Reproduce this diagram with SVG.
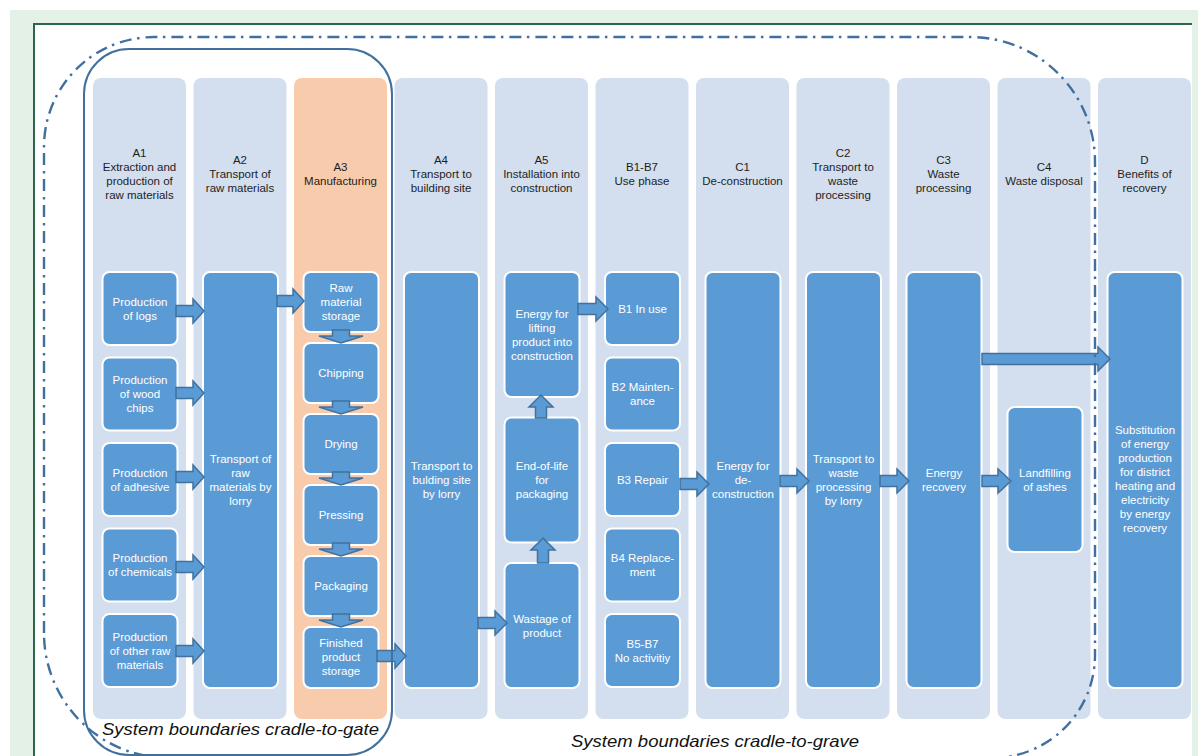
<svg xmlns="http://www.w3.org/2000/svg" width="1198" height="756" viewBox="0 0 1198 756">
<style>
.col{fill:#d3deef}
.a3{fill:#f8cbad}
.box{fill:#5b9bd5;stroke:#ffffff;stroke-width:2}
.arr{fill:#5b9bd5;stroke:#41719c;stroke-width:1.5;stroke-linejoin:miter}
.hd{font-family:"Liberation Sans",Arial,sans-serif;font-size:11.5px;fill:#1e1e1e;text-anchor:middle}
.bt{font-family:"Liberation Sans",Arial,sans-serif;font-size:11.5px;fill:#ffffff;text-anchor:middle}
.sb{font-family:"Liberation Sans",Arial,sans-serif;font-size:17px;font-style:italic;fill:#111111}
</style>
<rect x="0" y="0" width="1198" height="756" fill="#ffffff"/>
<rect x="10" y="10" width="1188" height="746" fill="#e4f1e6"/>
<rect x="34" y="24" width="1158" height="732" fill="#ffffff"/>
<path d="M34 756 L34 24 L1192 24" fill="none" stroke="#2b654d" stroke-width="2"/>

<g id="col-A1"><rect class="col" x="93" y="78" width="93" height="641" rx="8"/>
<text class="hd"><tspan x="139.5" y="157">A1</tspan><tspan x="139.5" y="171">Extraction and</tspan><tspan x="139.5" y="185">production of</tspan><tspan x="139.5" y="199">raw materials</tspan></text></g>
<g id="col-A2"><rect class="col" x="193.5" y="78" width="93" height="641" rx="8"/>
<text class="hd"><tspan x="240" y="164">A2</tspan><tspan x="240" y="178">Transport of</tspan><tspan x="240" y="192">raw materials</tspan></text></g>
<g id="col-A3"><rect class="a3" x="294" y="78" width="93" height="641" rx="8"/>
<text class="hd"><tspan x="340.5" y="171">A3</tspan><tspan x="340.5" y="185">Manufacturing</tspan></text></g>
<g id="col-A4"><rect class="col" x="394.5" y="78" width="93" height="641" rx="8"/>
<text class="hd"><tspan x="441" y="164">A4</tspan><tspan x="441" y="178">Transport to</tspan><tspan x="441" y="192">building site</tspan></text></g>
<g id="col-A5"><rect class="col" x="495" y="78" width="93" height="641" rx="8"/>
<text class="hd"><tspan x="541.5" y="164">A5</tspan><tspan x="541.5" y="178">Installation into</tspan><tspan x="541.5" y="192">construction</tspan></text></g>
<g id="col-B"><rect class="col" x="595.5" y="78" width="93" height="641" rx="8"/>
<text class="hd"><tspan x="642" y="171">B1-B7</tspan><tspan x="642" y="185">Use phase</tspan></text></g>
<g id="col-C1"><rect class="col" x="696" y="78" width="93" height="641" rx="8"/>
<text class="hd"><tspan x="742.5" y="171">C1</tspan><tspan x="742.5" y="185">De-construction</tspan></text></g>
<g id="col-C2"><rect class="col" x="796.5" y="78" width="93" height="641" rx="8"/>
<text class="hd"><tspan x="843" y="157">C2</tspan><tspan x="843" y="171">Transport to</tspan><tspan x="843" y="185">waste</tspan><tspan x="843" y="199">processing</tspan></text></g>
<g id="col-C3"><rect class="col" x="897" y="78" width="93" height="641" rx="8"/>
<text class="hd"><tspan x="943.5" y="164">C3</tspan><tspan x="943.5" y="178">Waste</tspan><tspan x="943.5" y="192">processing</tspan></text></g>
<g id="col-C4"><rect class="col" x="997.5" y="78" width="93" height="641" rx="8"/>
<text class="hd"><tspan x="1044" y="171">C4</tspan><tspan x="1044" y="185">Waste disposal</tspan></text></g>
<g id="col-D"><rect class="col" x="1098" y="78" width="93" height="641" rx="8"/>
<text class="hd"><tspan x="1144.5" y="164">D</tspan><tspan x="1144.5" y="178">Benefits of</tspan><tspan x="1144.5" y="192">recovery</tspan></text></g>

<g id="n-logs"><rect class="box" x="102.5" y="272" width="75" height="73" rx="7"/><text class="bt"><tspan x="140" y="305.5">Production</tspan><tspan x="140" y="319.5">of logs</tspan></text></g>
<g id="n-chips"><rect class="box" x="102.5" y="357.5" width="75" height="73" rx="7"/><text class="bt"><tspan x="140" y="384">Production</tspan><tspan x="140" y="398">of wood</tspan><tspan x="140" y="412">chips</tspan></text></g>
<g id="n-adhesive"><rect class="box" x="102.5" y="443" width="75" height="73" rx="7"/><text class="bt"><tspan x="140" y="476.5">Production</tspan><tspan x="140" y="490.5">of adhesive</tspan></text></g>
<g id="n-chemicals"><rect class="box" x="102.5" y="528.5" width="75" height="73" rx="7"/><text class="bt"><tspan x="140" y="562">Production</tspan><tspan x="140" y="576">of chemicals</tspan></text></g>
<g id="n-other"><rect class="box" x="102.5" y="614" width="75" height="73" rx="7"/><text class="bt"><tspan x="140" y="640.5">Production</tspan><tspan x="140" y="654.5">of other raw</tspan><tspan x="140" y="668.5">materials</tspan></text></g>

<g id="n-transport-raw"><rect class="box" x="203" y="272" width="75" height="416" rx="7"/><text class="bt"><tspan x="240.5" y="463">Transport of</tspan><tspan x="240.5" y="477">raw</tspan><tspan x="240.5" y="491">materials by</tspan><tspan x="240.5" y="505">lorry</tspan></text></g>

<g id="n-raw-storage"><rect class="box" x="303.5" y="272" width="75" height="60" rx="7"/><text class="bt"><tspan x="341" y="292">Raw</tspan><tspan x="341" y="306">material</tspan><tspan x="341" y="320">storage</tspan></text></g>
<g id="n-chipping"><rect class="box" x="303.5" y="343" width="75" height="60" rx="7"/><text class="bt"><tspan x="341" y="377">Chipping</tspan></text></g>
<g id="n-drying"><rect class="box" x="303.5" y="414" width="75" height="60" rx="7"/><text class="bt"><tspan x="341" y="448">Drying</tspan></text></g>
<g id="n-pressing"><rect class="box" x="303.5" y="485" width="75" height="60" rx="7"/><text class="bt"><tspan x="341" y="519">Pressing</tspan></text></g>
<g id="n-packaging"><rect class="box" x="303.5" y="556" width="75" height="60" rx="7"/><text class="bt"><tspan x="341" y="590">Packaging</tspan></text></g>
<g id="n-finished"><rect class="box" x="303.5" y="627" width="75" height="61" rx="7"/><text class="bt"><tspan x="341" y="647">Finished</tspan><tspan x="341" y="661">product</tspan><tspan x="341" y="675">storage</tspan></text></g>

<g id="n-transport-site"><rect class="box" x="404" y="272" width="75" height="416" rx="7"/><text class="bt"><tspan x="441.5" y="470">Transport to</tspan><tspan x="441.5" y="484">bulding site</tspan><tspan x="441.5" y="498">by lorry</tspan></text></g>

<g id="n-lifting"><rect class="box" x="504.5" y="272" width="75" height="125" rx="7"/><text class="bt"><tspan x="542" y="317.5">Energy for</tspan><tspan x="542" y="331.5">lifting</tspan><tspan x="542" y="345.5">product into</tspan><tspan x="542" y="359.5">construction</tspan></text></g>
<g id="n-eol"><rect class="box" x="504.5" y="417.5" width="75" height="125" rx="7"/><text class="bt"><tspan x="542" y="470">End-of-life</tspan><tspan x="542" y="484">for</tspan><tspan x="542" y="498">packaging</tspan></text></g>
<g id="n-wastage"><rect class="box" x="504.5" y="563" width="75" height="125" rx="7"/><text class="bt"><tspan x="542" y="622.5">Wastage of</tspan><tspan x="542" y="636.5">product</tspan></text></g>

<g id="n-b1"><rect class="box" x="605" y="272" width="75" height="73" rx="7"/><text class="bt"><tspan x="642.5" y="312.5">B1 In use</tspan></text></g>
<g id="n-b2"><rect class="box" x="605" y="357.5" width="75" height="73" rx="7"/><text class="bt"><tspan x="642.5" y="391">B2 Mainten-</tspan><tspan x="642.5" y="405">ance</tspan></text></g>
<g id="n-b3"><rect class="box" x="605" y="443" width="75" height="73" rx="7"/><text class="bt"><tspan x="642.5" y="483.5">B3 Repair</tspan></text></g>
<g id="n-b4"><rect class="box" x="605" y="528.5" width="75" height="73" rx="7"/><text class="bt"><tspan x="642.5" y="562">B4 Replace-</tspan><tspan x="642.5" y="576">ment</tspan></text></g>
<g id="n-b5"><rect class="box" x="605" y="614" width="75" height="73" rx="7"/><text class="bt"><tspan x="642.5" y="647.5">B5-B7</tspan><tspan x="642.5" y="661.5">No activitiy</tspan></text></g>

<g id="n-deconstruction"><rect class="box" x="705.5" y="272" width="75" height="416" rx="7"/><text class="bt"><tspan x="743" y="470">Energy for</tspan><tspan x="743" y="484">de-</tspan><tspan x="743" y="498">construction</tspan></text></g>
<g id="n-transport-waste"><rect class="box" x="806" y="272" width="75" height="416" rx="7"/><text class="bt"><tspan x="843.5" y="463">Transport to</tspan><tspan x="843.5" y="477">waste</tspan><tspan x="843.5" y="491">processing</tspan><tspan x="843.5" y="505">by lorry</tspan></text></g>
<g id="n-energy-recovery"><rect class="box" x="906.5" y="272" width="75" height="416" rx="7"/><text class="bt"><tspan x="944" y="477">Energy</tspan><tspan x="944" y="491">recovery</tspan></text></g>
<g id="n-landfill"><rect class="box" x="1007.5" y="407" width="75" height="145" rx="7"/><text class="bt"><tspan x="1045" y="476.5">Landfilling</tspan><tspan x="1045" y="490.5">of ashes</tspan></text></g>
<g id="n-substitution"><rect class="box" x="1107.5" y="272" width="75" height="416" rx="7"/><text class="bt"><tspan x="1145" y="434">Substitution</tspan><tspan x="1145" y="448">of energy</tspan><tspan x="1145" y="462">production</tspan><tspan x="1145" y="476">for district</tspan><tspan x="1145" y="490">heating and</tspan><tspan x="1145" y="504">electricity</tspan><tspan x="1145" y="518">by energy</tspan><tspan x="1145" y="532">recovery</tspan></text></g>

<g id="connectors">
<polygon class="arr" points="176,305.5 193,305.5 193,299 204,311 193,323 193,316.5 176,316.5"/>
<polygon class="arr" points="176,387.5 193,387.5 193,381 204,393 193,405 193,398.5 176,398.5"/>
<polygon class="arr" points="176,471.5 193,471.5 193,465 204,477 193,489 193,482.5 176,482.5"/>
<polygon class="arr" points="176,561.5 193,561.5 193,555 204,567 193,579 193,572.5 176,572.5"/>
<polygon class="arr" points="176,645.5 193,645.5 193,639 204,651 193,663 193,656.5 176,656.5"/>
<polygon class="arr" points="277,295.5 293,295.5 293,289 304,301 293,313 293,306.5 277,306.5"/>
<polygon class="arr" points="332.5,330 349.5,330 349.5,336 363,336 341,343 319,336 332.5,336"/>
<polygon class="arr" points="332.5,401 349.5,401 349.5,407 363,407 341,414 319,407 332.5,407"/>
<polygon class="arr" points="332.5,472 349.5,472 349.5,478 363,478 341,485 319,478 332.5,478"/>
<polygon class="arr" points="332.5,543 349.5,543 349.5,549 363,549 341,556 319,549 332.5,549"/>
<polygon class="arr" points="332.5,614 349.5,614 349.5,620 363,620 341,627 319,620 332.5,620"/>
<polygon class="arr" points="377,650.5 395,650.5 395,644 406,656 395,668 395,661.5 377,661.5"/>
<polygon class="arr" points="478,617.5 495,617.5 495,611 507,623 495,635 495,628.5 478,628.5"/>
<polygon class="arr" points="537.5,563 548.5,563 548.5,550 555,550 543,538 531,550 537.5,550"/>
<polygon class="arr" points="535.5,418 546.5,418 546.5,407 553,407 541,395 529,407 535.5,407"/>
<polygon class="arr" points="578,303.5 596,303.5 596,297 608,309 596,321 596,314.5 578,314.5"/>
<polygon class="arr" points="680,478.5 697,478.5 697,472 709,484 697,496 697,489.5 680,489.5"/>
<polygon class="arr" points="780,475.5 797,475.5 797,469 809,481 797,493 797,486.5 780,486.5"/>
<polygon class="arr" points="880,475.5 897,475.5 897,469 909,481 897,493 897,486.5 880,486.5"/>
<polygon class="arr" points="982,475.5 998,475.5 998,469 1011,481 998,493 998,486.5 982,486.5"/>
<polygon class="arr" points="982,353.5 1098,353.5 1098,347 1110,359 1098,371 1098,364.5 982,364.5"/>
</g>

<g id="boundary-gate">
<rect x="84" y="49" width="308" height="706" rx="45" fill="none" stroke="#41709f" stroke-width="2"/>
<text class="sb" x="102" y="735" textLength="277" lengthAdjust="spacingAndGlyphs">System boundaries cradle-to-gate</text>
</g>
<g id="boundary-grave">
<path d="M44 633 L44 147 A110 110 0 0 1 154 37 L970 37 A125 125 0 0 1 1095 162 L1095 655 A103 103 0 0 1 992 758 L169 758 A125 125 0 0 1 44 633 Z" fill="none" stroke="#41709f" stroke-width="2.4" stroke-dasharray="12 5.5 2.5 6"/>
<text class="sb" x="571" y="747" textLength="288" lengthAdjust="spacingAndGlyphs">System boundaries cradle-to-grave</text>
</g>
</svg>
